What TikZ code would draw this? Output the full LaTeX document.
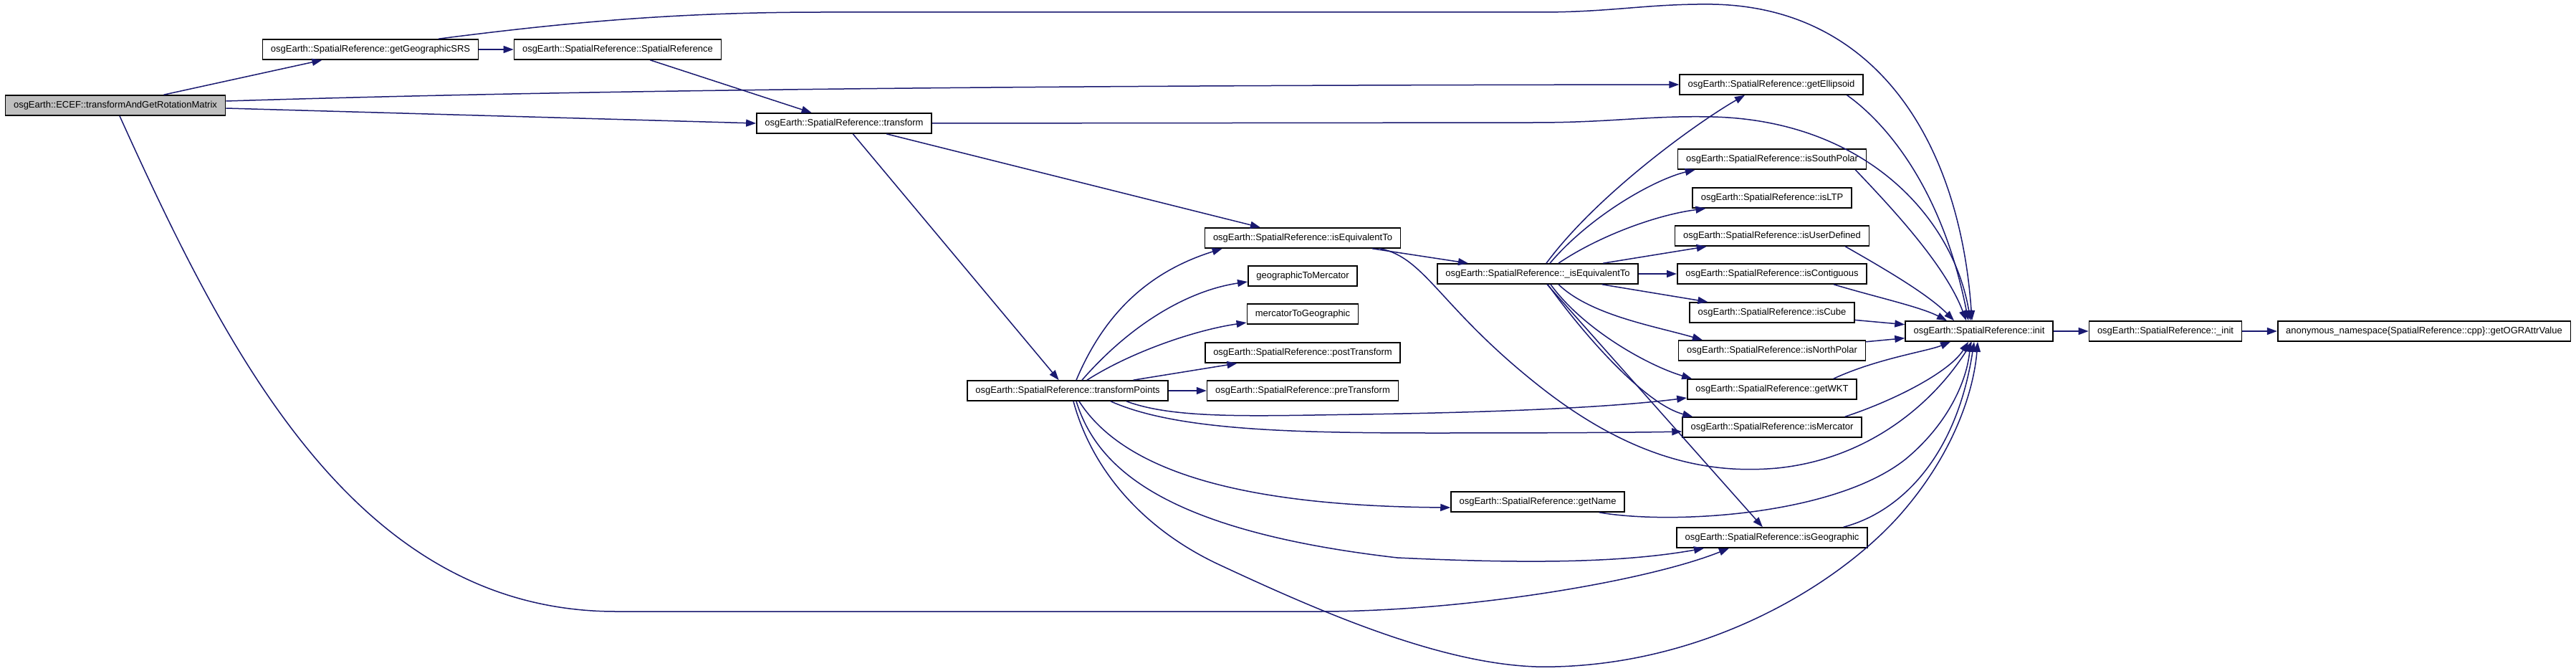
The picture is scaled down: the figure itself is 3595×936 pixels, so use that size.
\documentclass[tikz,border=0pt]{standalone}
\usepackage{fontspec}
\setmainfont{Liberation Sans}
\usepackage{tikz}
\usetikzlibrary{arrows.meta}
\definecolor{DoxEdge}{RGB}{25,25,112}
\definecolor{DoxRoot}{RGB}{191,191,191}
\tikzset{
  fbox/.style={draw=black,fill=white,line width=1.6pt,minimum height=28pt,inner xsep=11.5pt,inner ysep=0pt,font=\fontsize{13}{15}\selectfont},
  rbox/.style={fbox,fill=DoxRoot},
  carr/.style={-{Triangle[length=14pt,width=10pt]},DoxEdge,line width=1.5pt},
}
\begin{document}
\begin{tikzpicture}[x=1pt,y=-1pt]
\useasboundingbox (0,0) rectangle (3595,936);
% functions
\node[rbox] (ecef) at (161,147) {osgEarth::ECEF::transformAndGetRotationMatrix};
\node[fbox] (geoSRS) at (517,69) {osgEarth::SpatialReference::getGeographicSRS};
\node[fbox] (srCtor) at (862,69) {osgEarth::SpatialReference::SpatialReference};
\node[fbox] (transform) at (1178,172) {osgEarth::SpatialReference::transform};
\node[fbox] (tfPoints) at (1490,545) {osgEarth::SpatialReference::transformPoints};
\node[fbox] (isEquiv) at (1818,332) {osgEarth::SpatialReference::isEquivalentTo};
\node[fbox] (geoToMerc) at (1818,385) {geographicToMercator};
\node[fbox] (mercToGeo) at (1818,438) {mercatorToGeographic};
\node[fbox] (postTf) at (1818,492) {osgEarth::SpatialReference::postTransform};
\node[fbox] (preTf) at (1818,545) {osgEarth::SpatialReference::preTransform};
\node[fbox] (isEquivPriv) at (2146,382) {osgEarth::SpatialReference::\_isEquivalentTo};
\node[fbox] (getName) at (2146,700) {osgEarth::SpatialReference::getName};
\node[fbox] (getEllipsoid) at (2472,118) {osgEarth::SpatialReference::getEllipsoid};
\node[fbox] (isSouthPolar) at (2473,222) {osgEarth::SpatialReference::isSouthPolar};
\node[fbox] (isLTP) at (2473,276) {osgEarth::SpatialReference::isLTP};
\node[fbox] (isUserDefined) at (2473,329) {osgEarth::SpatialReference::isUserDefined};
\node[fbox] (isContiguous) at (2473,382) {osgEarth::SpatialReference::isContiguous};
\node[fbox] (isCube) at (2473,436) {osgEarth::SpatialReference::isCube};
\node[fbox] (isNorthPolar) at (2473,489) {osgEarth::SpatialReference::isNorthPolar};
\node[fbox] (getWKT) at (2473,543) {osgEarth::SpatialReference::getWKT};
\node[fbox] (isMercator) at (2473,596) {osgEarth::SpatialReference::isMercator};
\node[fbox] (isGeographic) at (2473,750) {osgEarth::SpatialReference::isGeographic};
\node[fbox] (init) at (2762,462) {osgEarth::SpatialReference::init};
\node[fbox] (initPriv) at (3022,462) {osgEarth::SpatialReference::\_init};
\node[fbox] (getOGR) at (3383,462) {anonymous\_namespace\{SpatialReference::cpp\}::getOGRAttrValue};
% calls
\draw[carr] (ecef) -- (geoSRS);
\draw[carr] ([yshift=6pt]ecef.east) .. controls (800,126) and (1400,119) .. (getEllipsoid.west);
\draw[carr] ([yshift=-4pt]ecef.east) -- (transform.west);
\draw[carr] ([xshift=6pt]ecef.south) .. controls (320,500) and (500,853) .. (860,853) -- (1840,853) .. controls (2050,853) and (2300,810) .. ([xshift=-60pt]isGeographic.south);
\draw[carr] (geoSRS) -- (srCtor);
\draw[carr] ([xshift=95pt]geoSRS.north) .. controls (800,30) and (950,17) .. (1150,17) -- (2150,17) .. controls (2250,17) and (2300,5) .. (2390,6) .. controls (2620,10) and (2735,200) .. ([xshift=-10pt]init.north);
\draw[carr] (srCtor) -- (transform);
\draw[carr] (transform.east) -- (2140,171) .. controls (2250,171) and (2300,161) .. (2390,163) .. controls (2600,168) and (2725,300) .. ([xshift=-12pt]init.north);
\draw[carr] (transform) -- (isEquiv);
\draw[carr] (transform) -- (tfPoints);
\draw[carr] ([xshift=12pt]tfPoints.north) .. controls (1540,440) and (1600,380) .. ([xshift=25pt]isEquiv.south west);
\draw[carr] ([xshift=20pt]tfPoints.north) .. controls (1580,450) and (1660,405) .. ([yshift=-8pt]geoToMerc.west);
\draw[carr] ([xshift=27pt]tfPoints.north) .. controls (1580,490) and (1670,460) .. ([yshift=-12pt]mercToGeo.west);
\draw[carr] (tfPoints) -- (postTf);
\draw[carr] (tfPoints) -- (preTf);
\draw[carr] ([xshift=82pt]tfPoints.south) .. controls (1640,585) and (1750,580) .. (1900,578) .. controls (2100,575) and (2250,568) .. ([yshift=-12pt]getWKT.west);
\draw[carr] ([xshift=60pt]tfPoints.south) .. controls (1640,600) and (1800,604) .. (2000,604) .. controls (2200,604) and (2300,603) .. ([yshift=-6pt]isMercator.west);
\draw[carr] ([xshift=16pt]tfPoints.south) .. controls (1570,660) and (1740,706) .. ([yshift=-8pt]getName.west);
\draw[carr] ([xshift=12pt]tfPoints.south) .. controls (1530,650) and (1620,740) .. (1950,778) .. controls (2120,786) and (2260,786) .. ([xshift=-95pt]isGeographic.south);
\draw[carr] ([xshift=8pt]tfPoints.south) .. controls (1525,660) and (1600,740) .. (1700,787) .. controls (1850,857) and (2030,935) .. (2170,930) .. controls (2380,925) and (2560,820) .. (2650,720) .. controls (2730,630) and (2755,540) .. ([xshift=-2pt]init.south);
\draw[carr] (isEquiv) -- (isEquivPriv);
\draw[carr] ([xshift=-29pt]isEquiv.south east) .. controls (1990,360) and (2010,430) .. (2150,540) .. controls (2290,650) and (2400,660) .. (2480,653) .. controls (2610,640) and (2700,560) .. ([xshift=-10pt]init.south);
\draw[carr] ([xshift=12pt]isEquivPriv.north) .. controls (2230,270) and (2370,170) .. ([xshift=-37pt]getEllipsoid.south);
\draw[carr] ([xshift=17pt]isEquivPriv.north) .. controls (2220,300) and (2310,250) .. ([xshift=25pt]isSouthPolar.south west);
\draw[carr] ([xshift=29pt]isEquivPriv.north) .. controls (2230,330) and (2310,300) .. ([xshift=19pt]isLTP.south west);
\draw[carr] (isEquivPriv) -- (isUserDefined);
\draw[carr] (isEquivPriv) -- (isContiguous);
\draw[carr] (isEquivPriv) -- (isCube);
\draw[carr] ([xshift=29pt]isEquivPriv.south) .. controls (2220,440) and (2310,455) .. ([xshift=34pt]isNorthPolar.north west);
\draw[carr] ([xshift=18pt]isEquivPriv.south) .. controls (2210,460) and (2300,510) .. ([xshift=7pt]getWKT.north west);
\draw[carr] ([xshift=14pt]isEquivPriv.south) .. controls (2220,480) and (2300,565) .. ([xshift=15pt]isMercator.north west);
\draw[carr] (isEquivPriv) -- (isGeographic);
\draw[carr] ([xshift=-36pt]getName.south east) .. controls (2330,732) and (2560,720) .. (2660,640) .. controls (2720,590) and (2745,530) .. ([xshift=-12pt]init.south);
\draw[carr] ([xshift=-23pt]getEllipsoid.south east) .. controls (2630,170) and (2710,260) .. ([xshift=-15pt]init.north);
\draw[carr] ([xshift=-16pt]isSouthPolar.south east) .. controls (2640,290) and (2715,370) .. ([xshift=-18pt]init.north);
\draw[carr] ([xshift=-34pt]isUserDefined.south east) .. controls (2630,375) and (2690,410) .. ([xshift=-35pt]init.north);
\draw[carr] ([xshift=-47pt]isContiguous.south east) .. controls (2620,415) and (2680,428) .. ([xshift=-45pt]init.north);
\draw[carr] (isCube) -- (init);
\draw[carr] (isNorthPolar) -- (init);
\draw[carr] ([xshift=-33pt]getWKT.north east) .. controls (2620,500) and (2690,490) .. ([xshift=-40pt]init.south);
\draw[carr] ([xshift=-24pt]isMercator.north east) .. controls (2640,560) and (2720,520) .. ([xshift=-15pt]init.south);
\draw[carr] ([xshift=-34pt]isGeographic.north east) .. controls (2650,715) and (2730,640) .. ([xshift=-7pt]init.south);
\draw[carr] (init) -- (initPriv);
\draw[carr] (initPriv) -- (getOGR);
\end{tikzpicture}
\end{document}
